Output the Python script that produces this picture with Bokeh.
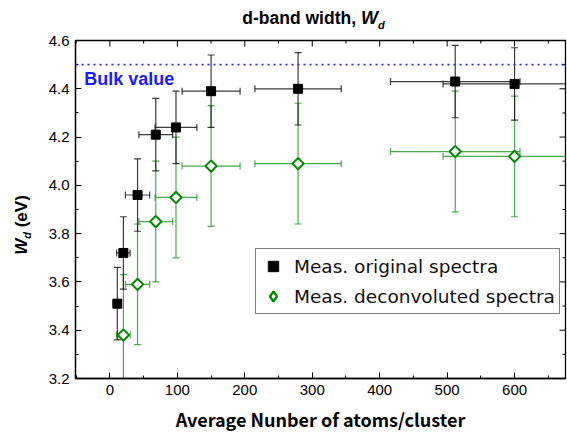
import math
from bokeh.plotting import figure
from bokeh.layouts import column, row
from bokeh.models import (Range1d, FixedTicker, ColumnDataSource, Span, Label,
                          Legend, LegendItem, NumeralTickFormatter, Div)
from bokeh.embed import file_html
from bokeh.resources import INLINE

# ---- data ----
orig_x = [11, 20, 41, 68, 98, 150, 279, 512, 600]
orig_y = [3.51, 3.72, 3.96, 4.21, 4.24, 4.39, 4.40, 4.43, 4.42]
orig_xerr = [5, 10, 18, 25, 31, 43, 64, 96, 106]
orig_yerr = [0.15, 0.15, 0.15, 0.15, 0.15, 0.15, 0.15, 0.15, 0.15]

deco_x = [20, 41, 68, 98, 150, 279, 512, 600]
deco_y = [3.38, 3.59, 3.85, 3.95, 4.08, 4.09, 4.14, 4.12]
deco_xerr = [10, 18, 25, 31, 43, 64, 96, 106]
deco_yerr = [0.25, 0.25, 0.25, 0.25, 0.25, 0.25, 0.25, 0.25]

bulk_value = 4.5
x_major_ticks = [0, 100, 200, 300, 400, 500, 600]
x_minor_ticks = [-50, 50, 150, 250, 350, 450, 550, 650]
y_major_ticks = [3.2, 3.4, 3.6, 3.8, 4.0, 4.2, 4.4, 4.6]
y_minor_ticks = [3.3, 3.5, 3.7, 3.9, 4.1, 4.3, 4.5]

X_MIN, X_MAX = -51, 675.5
Y_MIN, Y_MAX = 3.2, 4.6

SANS = "Liberation Sans"
JP_FONT = "Noto Sans CJK JP"


def make_source(x, y, xe, ye):
    return ColumnDataSource(dict(
        x=x, y=y,
        xl=[a - b for a, b in zip(x, xe)], xu=[a + b for a, b in zip(x, xe)],
        yl=[a - b for a, b in zip(y, ye)], yu=[a + b for a, b in zip(y, ye)],
    ))


src_o = make_source(orig_x, orig_y, orig_xerr, orig_yerr)
src_d = make_source(deco_x, deco_y, deco_xerr, deco_yerr)

p = figure(width=527, height=406, x_range=Range1d(X_MIN, X_MAX), y_range=Range1d(Y_MIN, Y_MAX),
           output_backend="svg", toolbar_location=None,
           min_border_left=35, min_border_right=2, min_border_top=10, min_border_bottom=58)
p.xgrid.visible = False
p.ygrid.visible = False
p.outline_line_color = "black"
p.outline_line_width = 1.3
p.background_fill_color = "white"
p.border_fill_color = "white"


def style_axis(ax, ticker):
    ax.ticker = ticker
    ax.axis_line_color = "black"
    ax.axis_line_width = 1.3
    ax.major_tick_in = 6
    ax.major_tick_out = 0
    ax.minor_tick_in = 3
    ax.minor_tick_out = 0
    ax.major_tick_line_color = "black"
    ax.minor_tick_line_color = "black"
    ax.major_label_text_font = SANS
    ax.major_label_text_font_size = "15px"
    ax.major_label_text_color = "black"
    ax.major_label_standoff = 6


style_axis(p.xaxis[0], FixedTicker(ticks=x_major_ticks, minor_ticks=x_minor_ticks))
style_axis(p.yaxis[0], FixedTicker(ticks=y_major_ticks, minor_ticks=y_minor_ticks))
p.yaxis[0].formatter = NumeralTickFormatter(format="0.0")
p.xaxis[0].axis_label = "Average Nunber of atoms/cluster"
p.xaxis[0].axis_label_text_font = JP_FONT
p.xaxis[0].axis_label_text_font_style = "bold"
p.xaxis[0].axis_label_text_font_size = "18px"
p.xaxis[0].axis_label_text_color = "black"
p.xaxis[0].axis_label_standoff = 8

# inward ticks on the top and right frame edges (half of each dash is clipped by the frame)
tick_top = ColumnDataSource(dict(x=x_major_ticks, y=[Y_MAX] * len(x_major_ticks)))
tick_top_m = ColumnDataSource(dict(x=x_minor_ticks, y=[Y_MAX] * len(x_minor_ticks)))
tick_right = ColumnDataSource(dict(x=[X_MAX] * len(y_major_ticks), y=y_major_ticks))
tick_right_m = ColumnDataSource(dict(x=[X_MAX] * len(y_minor_ticks), y=y_minor_ticks))
p.scatter(x="x", y="y", source=tick_top, marker="dash", angle=math.pi / 2, size=12, line_color="black", line_width=1)
p.scatter(x="x", y="y", source=tick_top_m, marker="dash", angle=math.pi / 2, size=6, line_color="black", line_width=1)
p.scatter(x="x", y="y", source=tick_right, marker="dash", size=12, line_color="black", line_width=1)
p.scatter(x="x", y="y", source=tick_right_m, marker="dash", size=6, line_color="black", line_width=1)

# bulk value line
p.add_layout(Span(location=bulk_value, dimension="width", line_color="#2b2bff",
                  line_width=1.6, line_dash="2 4"))
p.add_layout(Label(x=-38, y=4.441, text="Bulk value", text_font=SANS,
                   text_font_style="bold", text_font_size="18px", text_color="#1a1aff",
                   text_baseline="middle", text_align="left"))

# error bars
G_BAR = "#2e9a2e"
K_BAR = "#1a1a1a"
for src, col, alpha in ((src_d, G_BAR, 0.85), (src_o, K_BAR, 0.85)):
    kw = dict(source=src, line_color=col, line_width=1.2, line_alpha=alpha)
    p.segment(x0="x", y0="yl", x1="x", y1="yu", **kw)
    p.segment(x0="xl", y0="y", x1="xu", y1="y", **kw)
    p.scatter(x="x", y="yl", marker="dash", size=7, **kw)
    p.scatter(x="x", y="yu", marker="dash", size=7, **kw)
    p.scatter(x="xl", y="y", marker="dash", angle=math.pi / 2, size=7, **kw)
    p.scatter(x="xu", y="y", marker="dash", angle=math.pi / 2, size=7, **kw)

# diamond glyph used for the legend entry; it sits hidden under the rotated squares
r_d_leg = p.scatter(x="x", y="y", source=src_d, marker="diamond", size=7,
                    fill_color="white", line_color="#008a00", line_width=2.4)
r_d = p.scatter(x="x", y="y", source=src_d, marker="square", angle=math.pi / 4, size=8,
                fill_color="white", line_color="#008a00", line_width=2)
r_o = p.scatter(x="x", y="y", source=src_o, marker="square", size=9,
                fill_color="black", line_color="black")

legend = Legend(items=[LegendItem(label="Meas. original spectra", renderers=[r_o]),
                       LegendItem(label="Meas. deconvoluted spectra", renderers=[r_d_leg])],
                location=(180, 64))
legend.label_text_font = "DejaVu Sans"
legend.label_text_font_size = "18.5px"
legend.label_text_color = "#111111"
legend.border_line_color = "black"
legend.border_line_width = 1
legend.padding = 4
legend.margin = 0
legend.spacing = 4
legend.label_height = 25
legend.glyph_height = 26
legend.glyph_width = 26
legend.label_standoff = 8
legend.background_fill_alpha = 1
p.add_layout(legend, "center")

title_html = ('<div style="box-sizing:border-box;width:567px;padding-left:60px;padding-top:8px;'
              'text-align:center;white-space:nowrap;'
              'font-family:\'Liberation Sans\',Arial,sans-serif;font-weight:bold;font-size:17.5px;'
              'line-height:20px;color:black;">d-band width, '
              '<i style="font-size:18px">W</i><sub style="font-size:11px;font-style:italic">d</sub></div>')
title_div = Div(text=title_html, width=567, height=30, margin=0)

ylab_html = ('<div style="margin-top:305px;margin-left:12px;width:220px;height:20px;line-height:20px;'
             'transform-origin:0 0;transform:rotate(-90deg);text-align:center;white-space:nowrap;'
             'font-family:\'Liberation Sans\',Arial,sans-serif;font-weight:bold;font-size:17px;color:black;">'
             '<i>W</i><sub style="font-size:11px;font-style:italic">d</sub> (eV)</div>')
ylab_div = Div(text=ylab_html, width=40, height=406, margin=0)

layout = column(title_div, row(ylab_div, p, spacing=0), spacing=0)

open("out.html", "w").write(file_html(layout, INLINE))
